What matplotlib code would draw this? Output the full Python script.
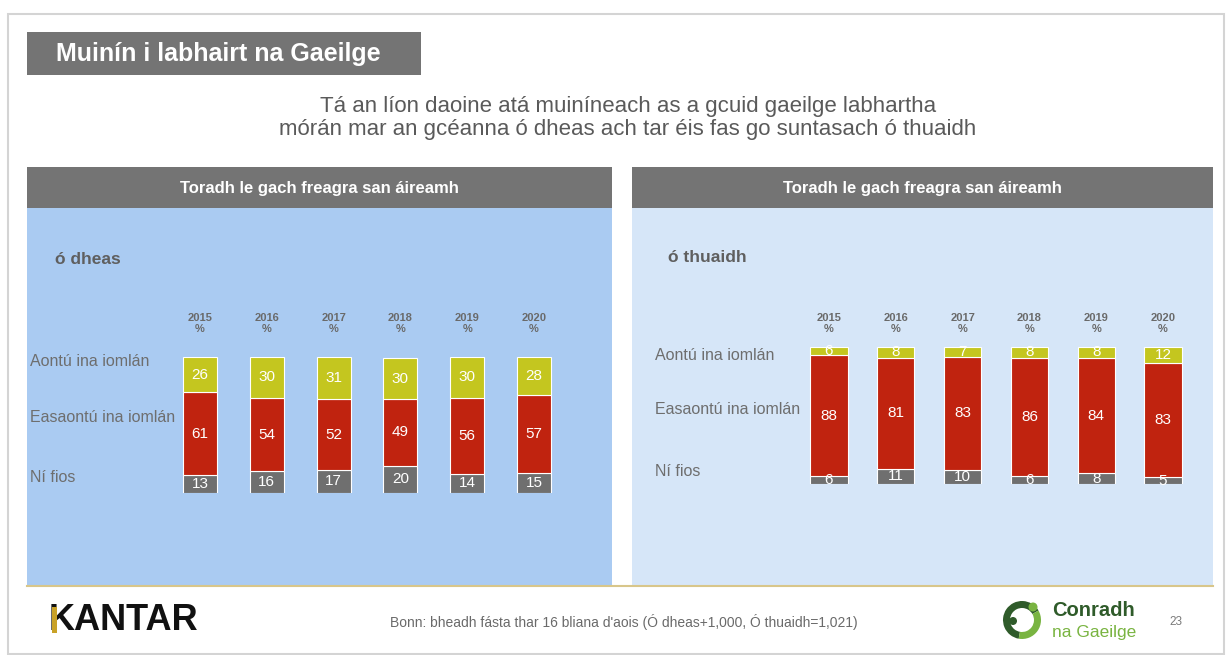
import numpy as np
import matplotlib.pyplot as plt
from matplotlib.patches import Rectangle, Circle, Wedge

plt.rcParams['font.family'] = ['Liberation Sans', 'DejaVu Sans']

# ---------------------------------------------------------------- data ---- #
years = ['2015', '2016', '2017', '2018', '2019', '2020']
series = ['Aontú ina iomlán', 'Easaontú ina iomlán', 'Ní fios']

south_agree = [26, 30, 31, 30, 30, 28]
south_disagree = [61, 54, 52, 49, 56, 57]
south_dk = [13, 16, 17, 20, 14, 15]

north_agree = [6, 8, 7, 8, 8, 12]
north_disagree = [88, 81, 83, 86, 84, 83]
north_dk = [6, 11, 10, 6, 8, 5]

title = 'Muinín i labhairt na Gaeilge'
subtitle = ('Tá an líon daoine atá muiníneach as a gcuid gaeilge labhartha\n'
            'mórán mar an gcéanna ó dheas ach tar éis fas go suntasach ó thuaidh')
panel_header = 'Toradh le gach freagra san áireamh'
panel_names = ['ó dheas', 'ó thuaidh']
source = 'Bonn: bheadh fásta thar 16 bliana d\'aois (Ó dheas+1,000, Ó thuaidh=1,021)'

# -------------------------------------------------------------- colours --- #
c_yellow = '#c4c61f'
c_red = '#c0230f'
c_grey = '#6f6f6f'
c_head = '#747474'
c_txt = '#6e6e6e'

W, H = 1229, 655
fig = plt.figure(figsize=(W / 100, H / 100), dpi=100)
fig.patch.set_facecolor('white')

# background axes in pixel coords
bg = fig.add_axes([0, 0, 1, 1])
bg.set_xlim(0, W)
bg.set_ylim(H, 0)
bg.axis('off')

# slide frame
bg.add_patch(Rectangle((8, 14), 1216, 640, facecolor='white',
                       edgecolor='#d4d4d4', lw=1.5))

# title box
bg.add_patch(Rectangle((27, 32), 394, 43, facecolor=c_head, edgecolor='none'))
bg.text(56, 54, title, color='white', fontsize=18, fontweight='bold',
        va='center', ha='left')

bg.text(628, 118, subtitle, color='#5a5a5a', fontsize=16, ha='center',
        va='center', linespacing=1.1)

# panels
panels = [(27, 612, '#aacbf2'), (632, 1213, '#d6e6f8')]
for (x0, x1, col), name in zip(panels, panel_names):
    bg.add_patch(Rectangle((x0, 167), x1 - x0, 41, facecolor=c_head,
                           edgecolor='none'))
    bg.text((x0 + x1) / 2, 188, panel_header, color='white', fontsize=12,
            fontweight='bold', ha='center', va='center')
    bg.add_patch(Rectangle((x0, 208), x1 - x0, 377, facecolor=col,
                           edgecolor='none'))
bg.text(55, 260, panel_names[0], color='#5f5f5f', fontsize=12.5,
        fontweight='bold', va='center')
bg.text(668, 257, panel_names[1], color='#5f5f5f', fontsize=12.5,
        fontweight='bold', va='center')

# thin gold line under the panels
bg.plot([27, 1213], [586, 586], color='#d8c68a', lw=1.5)

# row labels
for lbl, y in zip(series, [361, 417, 478]):
    bg.text(30, y, lbl, color=c_txt, fontsize=11.5, va='center')
for lbl, y in zip(series, [355, 410, 472]):
    bg.text(655, y, lbl, color=c_txt, fontsize=11.5, va='center')

# footer
bg.text(49, 620, 'KANTAR', color='#111111', fontsize=26, fontweight='bold',
        va='center', ha='left')
# gold stem of the K
bg.add_patch(Rectangle((51.5, 606.5), 5, 26.5, facecolor='#c9a227',
                       edgecolor='none', zorder=5))
bg.text(624, 622, source, color='#6a6a6a', fontsize=10, ha='center',
        va='center')
bg.text(1176, 622, '23', color='#7a7a7a', fontsize=8.5, ha='center',
        va='center')

# Conradh na Gaeilge logo (simple)
bg.add_patch(Wedge((1022, 620), 19, 100, 330, width=7, facecolor='#2f5b2a',
                   edgecolor='none'))
bg.add_patch(Wedge((1022, 620), 19, 330, 100, width=7, facecolor='#79b441',
                   edgecolor='none'))
bg.add_patch(Circle((1013, 621), 4, facecolor='#2f5b2a', edgecolor='none'))
bg.add_patch(Circle((1033, 607), 4.5, facecolor='#79b441', edgecolor='none'))
bg.text(1052, 610, 'Conradh', color='#2f5b2a', fontsize=14.5,
        fontweight='bold', va='center')
bg.text(1052, 632, 'na Gaeilge', color='#79b441', fontsize=12.5,
        va='center')


def px_axes(x0, x1, y0, y1):
    return fig.add_axes([x0 / W, 1 - y1 / H, (x1 - x0) / W, (y1 - y0) / H])


def stacked(ax, agree, disagree, dk, width, pad):
    x = np.arange(len(years))
    agree = np.array(agree)
    disagree = np.array(disagree)
    dk = np.array(dk)
    ax.bar(x, dk, width, color=c_grey, edgecolor='white', lw=0.8)
    ax.bar(x, disagree, width, bottom=dk, color=c_red, edgecolor='white',
           lw=0.8)
    ax.bar(x, agree, width, bottom=dk + disagree, color=c_yellow,
           edgecolor='white', lw=0.8)
    for i in range(len(x)):
        ax.text(x[i], dk[i] / 2, str(dk[i]), color='white', fontsize=11,
                ha='center', va='center')
        ax.text(x[i], dk[i] + disagree[i] / 2, str(disagree[i]),
                color='white', fontsize=11, ha='center', va='center')
        ax.text(x[i], dk[i] + disagree[i] + agree[i] / 2, str(agree[i]),
                color='white', fontsize=11, ha='center', va='center')
    ax.set_xlim(-0.5, len(x) - 0.5)
    ax.set_ylim(0, 100)
    ax.patch.set_visible(False)
    for s in ax.spines.values():
        s.set_visible(False)
    ax.set_yticks([])
    ax.xaxis.tick_top()
    ax.set_xticks(x, [y + '\n%' for y in years])
    ax.tick_params(axis='x', length=0, pad=pad, labelsize=8, colors='#6a6a6a')
    for t in ax.get_xticklabels():
        t.set_fontweight('bold')
        t.set_linespacing(1.1)


ax1 = px_axes(166.5, 567.5, 357, 493)
stacked(ax1, south_agree, south_disagree, south_dk, 0.51, 16.5)

ax2 = px_axes(795.5, 1196.5, 347, 484)
stacked(ax2, north_agree, north_disagree, north_dk, 0.56, 9.5)

fig.savefig('out.png', dpi=100)
